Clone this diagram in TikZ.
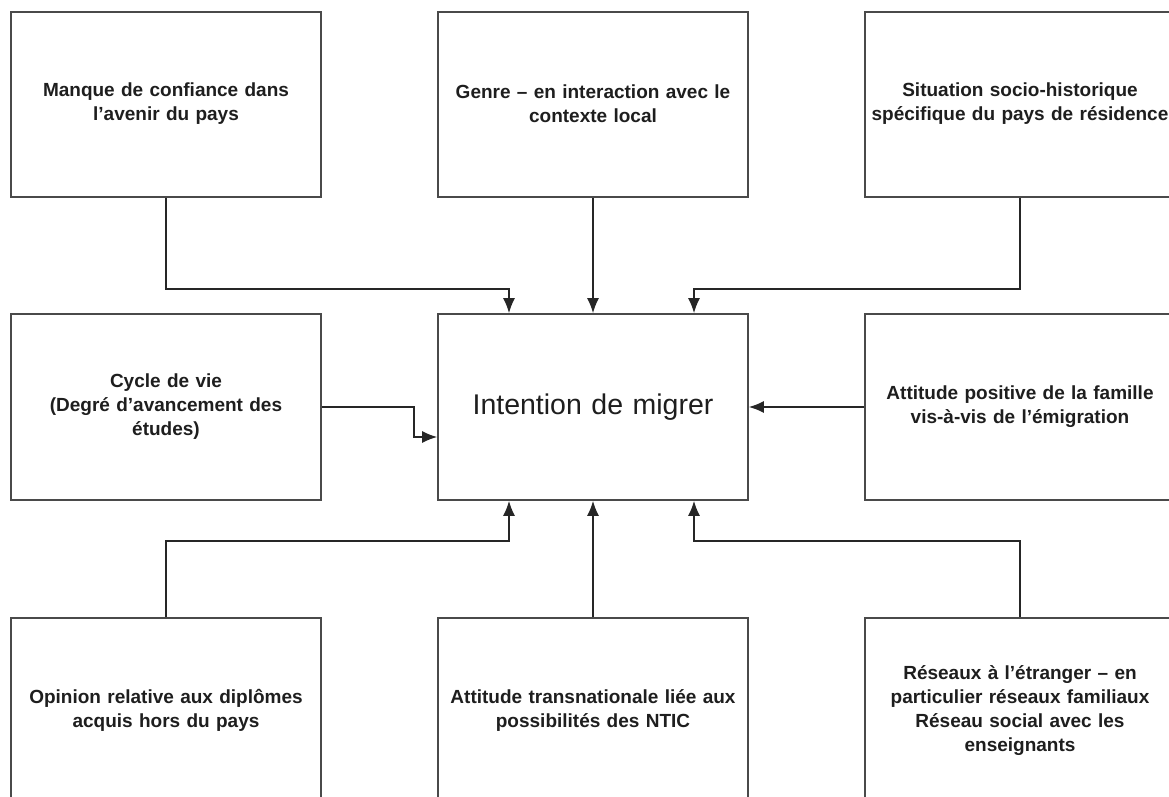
\documentclass[tikz,border=0pt]{standalone}
\usepackage{fontspec}
\setmainfont{Liberation Sans}
\usetikzlibrary{arrows.meta}
\definecolor{boxline}{HTML}{4A4A4A}
\definecolor{txt}{HTML}{1E1E1E}
\tikzset{
  factor/.style={draw=boxline, line width=1.8pt, rectangle, minimum width=310pt, minimum height=185pt,
    inner sep=0pt, text width=305pt, align=center, text=txt,
    font=\bfseries\fontsize{19}{24}\selectfont},
  central/.style={factor, minimum height=186pt, font=\fontsize{28.5}{32}\selectfont},
  arr/.style={draw=black!85, line width=1.3pt, -{Latex[length=15pt,width=12pt]}}
}
\begin{document}
\begin{tikzpicture}[x=1pt,y=-1pt]
\useasboundingbox (0,0) rectangle (1169,797);
\clip (0,0) rectangle (1169,797);
\fill[white] (0,0) rectangle (1169,797);
\node[factor] (tl) at (166,104.5) {\mbox{}\\[-12pt]Manque de confiance dans\\l’avenir du pays};
\node[factor] (tm) at (593,104.5) {\mbox{}\\[-12pt]Genre – en interaction avec le\\contexte local};
\node[factor] (tr) at (1020,104.5) {\mbox{}\\[-12pt]Situation socio-historique\\spécifique du pays de résidence};
\node[factor, minimum height=186pt] (cy) at (166,407) {Cycle de vie\\(Degré d’avancement des\\études)};
\node[central] (c) at (593,407) {Intention de migrer\\[34pt]};
\node[factor, minimum height=186pt] (ar) at (1020,407) {Attitude positive de la famille\\vis-à-vis de l’émigration};
\node[factor] (bl) at (166,710.5) {Opinion relative aux diplômes\\acquis hors du pays};
\node[factor] (bm) at (593,710.5) {Attitude transnationale liée aux\\possibilités des NTIC};
\node[factor] (br) at (1020,710.5) {Réseaux à l’étranger – en\\particulier réseaux familiaux\\Réseau social avec les\\enseignants};
\draw[arr] (tl.south) -- ++(0,91) -| ([xshift=-84pt]c.north);
\draw[arr] (tm.south) -- (c.north);
\draw[arr] (tr.south) -- ++(0,91) -| ([xshift=101pt]c.north);
\draw[arr] (cy.east) -- ++(92,0) |- ([yshift=-30pt]c.west);
\draw[arr] (ar.west) -- (c.east);
\draw[arr] (bl.north) -- ++(0,-76) -| ([xshift=-84pt]c.south);
\draw[arr] (bm.north) -- (c.south);
\draw[arr] (br.north) -- ++(0,-76) -| ([xshift=101pt]c.south);
\end{tikzpicture}
\end{document}
